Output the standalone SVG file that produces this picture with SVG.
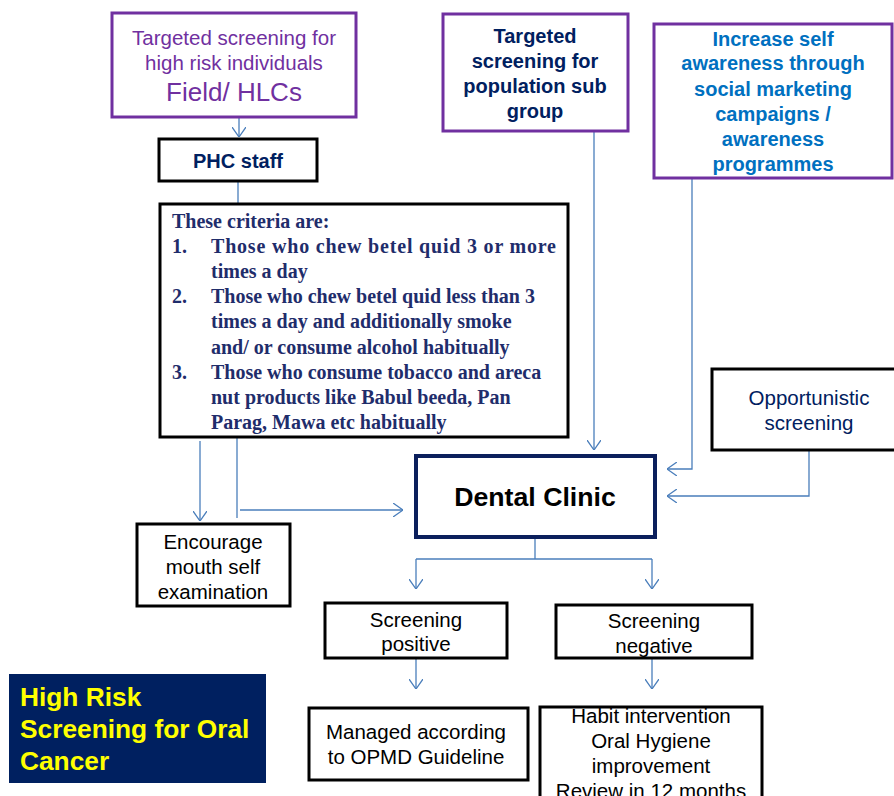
<svg xmlns="http://www.w3.org/2000/svg" width="894" height="796" viewBox="0 0 894 796">
<defs>
<marker id="arr" viewBox="0 0 10 14" refX="10" refY="7" markerWidth="10" markerHeight="14" markerUnits="userSpaceOnUse" orient="auto">
<path d="M0,0 L10,7 L0,14" fill="none" stroke="#4A7EBB" stroke-width="1.3"/>
</marker>
<style>
.box{fill:#fff;stroke:#000;stroke-width:3}
.pbox{fill:#fff;stroke:#7030A0;stroke-width:3}
.ln{fill:none;stroke:#4A7EBB;stroke-width:1.3}
.sans{font-family:"Liberation Sans",Arial,sans-serif}
.c{text-anchor:middle}
.n{font-size:20.5px;fill:#000}
.bn{font-size:20px;font-weight:bold;fill:#002060}
.bb{font-size:20px;font-weight:bold;fill:#0070C0}
.crit{font-family:"Liberation Serif","Times New Roman",serif;font-size:20px;font-weight:bold;fill:#1F2D6B}
</style>
</defs>
<rect width="894" height="796" fill="#fff"/>

<g id="connectors">
<path class="ln" d="M239,117 V137" marker-end="url(#arr)"/>
<path class="ln" d="M238,181 V225" marker-end="url(#arr)"/>
<path class="ln" d="M594,131 V450" marker-end="url(#arr)"/>
<path class="ln" d="M692,178 V469 H667" marker-end="url(#arr)"/>
<path class="ln" d="M809,450 V496 H667" marker-end="url(#arr)"/>
<path class="ln" d="M200,441 V521" marker-end="url(#arr)"/>
<path class="ln" d="M237,438 V518"/>
<path class="ln" d="M240,510 H403" marker-end="url(#arr)"/>
<path class="ln" d="M535,538 V559"/>
<path class="ln" d="M416,559 H652"/>
<path class="ln" d="M416,559 V589" marker-end="url(#arr)"/>
<path class="ln" d="M652,559 V589" marker-end="url(#arr)"/>
<path class="ln" d="M416,659 V689" marker-end="url(#arr)"/>
<path class="ln" d="M652,659 V689" marker-end="url(#arr)"/>
</g>

<g id="field">
<rect class="pbox" x="112" y="13" width="244" height="104"/>
<text class="sans c" x="234" y="45" font-size="20.5" fill="#7030A0">Targeted screening for</text>
<text class="sans c" x="234" y="70" font-size="20.5" fill="#7030A0">high risk individuals</text>
<text class="sans c" x="234" y="101" font-size="26" fill="#7030A0">Field/ HLCs</text>
</g>

<g id="phc">
<rect class="box" x="159" y="139" width="158" height="42"/>
<text class="sans c bn" x="238" y="168">PHC staff</text>
</g>

<g id="criteria">
<rect class="box" x="160" y="204" width="408" height="233"/>
<text class="crit" x="172" y="228">These criteria are:</text>
<text class="crit" x="172" y="253">1.</text>
<text class="crit" x="211" y="253" textLength="345" lengthAdjust="spacing">Those who chew betel quid 3 or more</text>
<text class="crit" x="211" y="278">times a day</text>
<text class="crit" x="172" y="303">2.</text>
<text class="crit" x="211" y="303">Those who chew betel quid less than 3</text>
<text class="crit" x="211" y="328">times a day and additionally smoke</text>
<text class="crit" x="211" y="354">and/ or consume alcohol habitually</text>
<text class="crit" x="172" y="379">3.</text>
<text class="crit" x="211" y="379">Those who consume tobacco and areca</text>
<text class="crit" x="211" y="404">nut products like Babul beeda, Pan</text>
<text class="crit" x="211" y="429">Parag, Mawa etc habitually</text>
</g>

<g id="population">
<rect class="pbox" x="443" y="14" width="185" height="117"/>
<text class="sans c bn" x="535" y="43">Targeted</text>
<text class="sans c bn" x="535" y="68">screening for</text>
<text class="sans c bn" x="535" y="93">population sub</text>
<text class="sans c bn" x="535" y="118">group</text>
</g>

<g id="awareness">
<rect class="pbox" x="654" y="24" width="238" height="154"/>
<text class="sans c bb" x="773" y="46">Increase self</text>
<text class="sans c bb" x="773" y="70">awareness through</text>
<text class="sans c bb" x="773" y="96">social marketing</text>
<text class="sans c bb" x="773" y="121">campaigns /</text>
<text class="sans c bb" x="773" y="146">awareness</text>
<text class="sans c bb" x="773" y="171">programmes</text>
</g>

<g id="opportunistic">
<rect class="box" x="712" y="369" width="184" height="81"/>
<text class="sans c" x="809" y="405" font-size="20.5" fill="#002060">Opportunistic</text>
<text class="sans c" x="809" y="430" font-size="20.5" fill="#002060">screening</text>
</g>

<g id="dental">
<rect x="416" y="456" width="239" height="81" fill="#fff" stroke="#0B1F5C" stroke-width="4"/>
<text class="sans c" x="535" y="506" font-size="26.7" font-weight="bold" fill="#000">Dental Clinic</text>
</g>

<g id="encourage">
<rect class="box" x="137" y="524" width="153" height="82"/>
<text class="sans c n" x="213" y="549">Encourage</text>
<text class="sans c n" x="213" y="574">mouth self</text>
<text class="sans c n" x="213" y="599">examination</text>
</g>

<g id="positive">
<rect class="box" x="325" y="603" width="182" height="55"/>
<text class="sans c n" x="416" y="627">Screening</text>
<text class="sans c n" x="416" y="651">positive</text>
</g>

<g id="negative">
<rect class="box" x="556" y="605" width="196" height="53"/>
<text class="sans c n" x="654" y="628">Screening</text>
<text class="sans c n" x="654" y="653">negative</text>
</g>

<g id="managed">
<rect class="box" x="309" y="708" width="219" height="72"/>
<text class="sans c n" x="416" y="739">Managed according</text>
<text class="sans c n" x="416" y="764">to OPMD Guideline</text>
</g>

<g id="habit">
<rect class="box" x="540" y="707" width="222" height="100"/>
<text class="sans c n" x="651" y="723">Habit intervention</text>
<text class="sans c n" x="651" y="748">Oral Hygiene</text>
<text class="sans c n" x="651" y="773">improvement</text>
<text class="sans c n" x="651" y="798">Review in 12 months</text>
</g>

<g id="title">
<rect x="9" y="674" width="257" height="109" fill="#002060"/>
<text class="sans" x="20" y="706" font-size="26.3" font-weight="bold" fill="#FFFF00">High Risk</text>
<text class="sans" x="20" y="738" font-size="26.3" font-weight="bold" fill="#FFFF00">Screening for Oral</text>
<text class="sans" x="20" y="770" font-size="26.3" font-weight="bold" fill="#FFFF00">Cancer</text>
</g>
</svg>
